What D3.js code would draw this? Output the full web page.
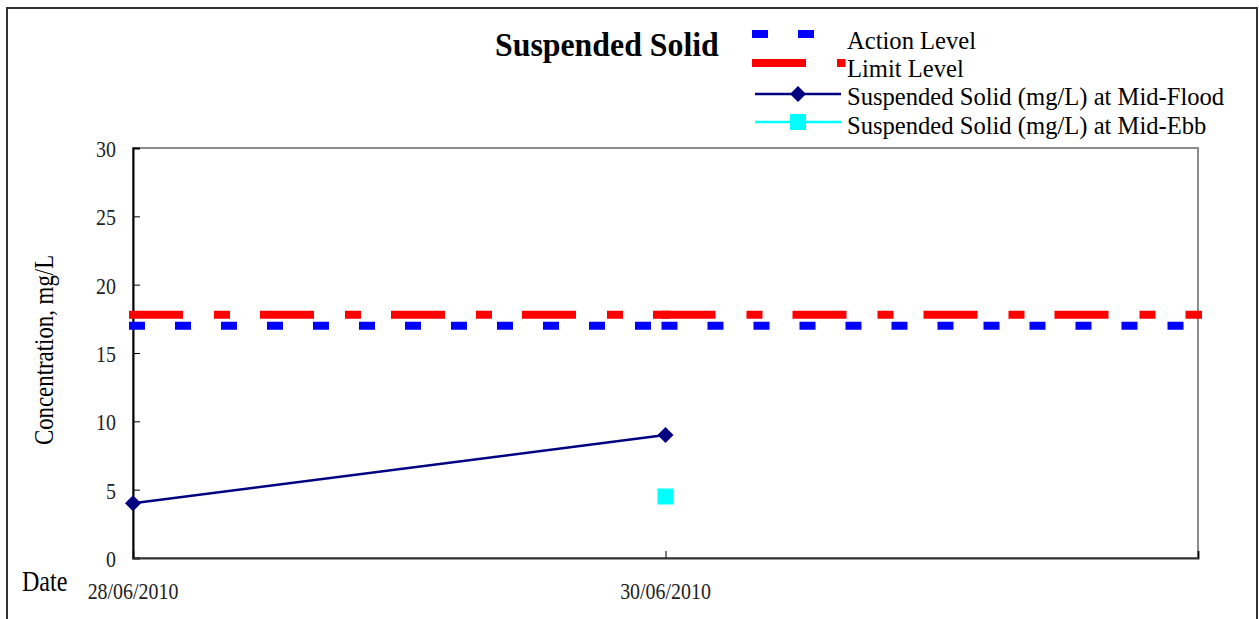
<!DOCTYPE html>
<html>
<head>
<meta charset="utf-8">
<script src="https://cdn.jsdelivr.net/npm/d3@7"></script>
<style>
  html, body { margin: 0; padding: 0; background: #fff; }
  svg { display: block; }
  text { font-family: "Liberation Serif", "Times New Roman", serif; }
</style>
</head>
<body>
<svg id="chart" width="1259" height="619"></svg>
<script>
// ---- data ----
const levelDates = ["2010-06-28", "2010-06-30", "2010-07-02"];
const actionLevel = [17, 17, 17];
const limitLevel = [17.8, 17.8, 17.8];
const floodDates = ["2010-06-28", "2010-06-30"];
const floodValues = [4, 9];
const ebbDates = ["2010-06-30"];
const ebbValues = [4.5];
const xTickDates = ["2010-06-28", "2010-06-30", "2010-07-02"];
const xTickLabels = ["28/06/2010", "30/06/2010", ""];
const yTicks = [0, 5, 10, 15, 20, 25, 30];
const legendLabels = [
  "Action Level",
  "Limit Level",
  "Suspended Solid (mg/L) at Mid-Flood",
  "Suspended Solid (mg/L) at Mid-Ebb"
];

const parse = d3.utcParse("%Y-%m-%d");
const svg = d3.select("#chart");
const SX = 0.83;   // narrow serif text
const LSX = 0.965; // legend text

// outer frame
svg.append("rect")
  .attr("x", 7).attr("y", 8).attr("width", 1250).attr("height", 640)
  .attr("fill", "none").attr("stroke", "#333").attr("stroke-width", 2);

const plot = { left: 133, right: 1198, top: 148, bottom: 558 };

const x = d3.scaleUtc()
  .domain([parse(levelDates[0]), parse(levelDates[levelDates.length - 1])])
  .range([plot.left, plot.right]);
const y = d3.scaleLinear().domain([0, 30]).range([plot.bottom, plot.top]);

// plot area border
svg.append("rect")
  .attr("x", plot.left).attr("y", plot.top)
  .attr("width", plot.right - plot.left).attr("height", plot.bottom - plot.top)
  .attr("fill", "#fff").attr("stroke", "#8c8c8c").attr("stroke-width", 2);

// y axis (inside ticks)
const yAxis = svg.append("g")
  .attr("transform", `translate(${plot.left},0)`)
  .call(d3.axisRight(y).tickValues(yTicks).tickSize(7).tickFormat(""));
yAxis.select(".domain").attr("stroke", "#000").attr("stroke-width", 2);
yAxis.selectAll(".tick line").attr("stroke", "#000");

svg.append("g").selectAll("text")
  .data(yTicks).join("text")
  .attr("transform", d => `translate(116,${y(d) + 9}) scale(${SX},1)`)
  .attr("text-anchor", "end")
  .attr("font-size", 24).attr("fill", "#222")
  .text(d => d);

// x axis (inside ticks)
const xAxis = svg.append("g")
  .attr("transform", `translate(0,${plot.bottom})`)
  .call(d3.axisTop(x).tickValues(xTickDates.map(parse)).tickSize(7).tickFormat(""));
xAxis.select(".domain").attr("stroke", "#333").attr("stroke-width", 2);
xAxis.selectAll(".tick line").attr("stroke", "#000");

svg.append("g").selectAll("text")
  .data(xTickDates.map((d, i) => ({ d: parse(d), label: xTickLabels[i] })))
  .join("text")
  .attr("transform", t => `translate(${x(t.d)},599) scale(${SX},1)`)
  .attr("text-anchor", "middle")
  .attr("font-size", 24).attr("fill", "#222")
  .text(t => t.label);

svg.append("text")
  .attr("transform", `translate(22,591) scale(${SX},1)`)
  .attr("font-size", 29).attr("fill", "#000")
  .text("Date");

svg.append("text")
  .attr("transform", `translate(53,350) rotate(-90) scale(${SX},1)`)
  .attr("text-anchor", "middle")
  .attr("font-size", 27.5).attr("fill", "#000")
  .text("Concentration, mg/L");

// title
svg.append("text")
  .attr("transform", "translate(495,56) scale(0.965,1)")
  .attr("font-size", 33).attr("font-weight", "bold").attr("fill", "#000")
  .text("Suspended Solid");

// ---- level lines, dashed per segment ----
const lineGen = d3.line().x(d => x(d.date)).y(d => y(d.value));
function levelSeries(values) {
  return levelDates.map((d, i) => ({ date: parse(d), value: values[i] }));
}
const actionDash = "8,38";
const limitDash = "46,39,8,38";

function drawLevel(values, color, dash) {
  const pts = levelSeries(values);
  svg.append("g").selectAll("path")
    .data(d3.pairs(pts)).join("path")
    .attr("d", p => lineGen(p))
    .attr("fill", "none").attr("stroke", color).attr("stroke-width", 8)
    .attr("stroke-linecap", "square").attr("stroke-dasharray", dash);
}
drawLevel(actionLevel, "#0000ff", actionDash);
drawLevel(limitLevel, "#ff0000", limitDash);

// Mid-Flood series
const flood = floodDates.map((d, i) => ({ date: parse(d), value: floodValues[i] }));
svg.append("path")
  .datum(flood)
  .attr("d", lineGen)
  .attr("fill", "none").attr("stroke", "#000080").attr("stroke-width", 2.5);

const diamond = (cx, cy, r) => `M${cx},${cy - r}L${cx + r},${cy}L${cx},${cy + r}L${cx - r},${cy}Z`;
svg.append("g").selectAll("path")
  .data(flood).join("path")
  .attr("d", d => diamond(x(d.date), y(d.value), 8))
  .attr("fill", "#000080");

// Mid-Ebb series
const ebb = ebbDates.map((d, i) => ({ date: parse(d), value: ebbValues[i] }));
svg.append("path")
  .datum(ebb)
  .attr("d", lineGen)
  .attr("fill", "none").attr("stroke", "#00ffff").attr("stroke-width", 2.5);
svg.append("g").selectAll("rect")
  .data(ebb).join("rect")
  .attr("x", d => x(d.date) - 8).attr("y", d => y(d.value) - 8)
  .attr("width", 16).attr("height", 16)
  .attr("fill", "#00ffff");

// ---- legend ----
const lg = svg.append("g");
const lx0 = 756, lx1 = 841, lmid = 798;
const rowY = [34, 63, 94, 122];
const rowBase = [48.5, 77, 105, 134];

lg.append("path").attr("d", `M${lx0},${rowY[0]}H${lx1}`)
  .attr("stroke", "#0000ff").attr("stroke-width", 8)
  .attr("stroke-linecap", "square").attr("stroke-dasharray", actionDash);
lg.append("path").attr("d", `M${lx0},${rowY[1]}H${lx1 + 0.5}`)
  .attr("stroke", "#ff0000").attr("stroke-width", 8)
  .attr("stroke-linecap", "square").attr("stroke-dasharray", limitDash);
lg.append("path").attr("d", `M${lx0 - 1},${rowY[2]}H${lx1}`)
  .attr("stroke", "#000080").attr("stroke-width", 2.5);
lg.append("path").attr("d", diamond(lmid, rowY[2], 8)).attr("fill", "#000080");
lg.append("path").attr("d", `M${lx0 - 1},${rowY[3]}H${lx1}`)
  .attr("stroke", "#00ffff").attr("stroke-width", 2.5);
lg.append("rect").attr("x", lmid - 8).attr("y", rowY[3] - 8)
  .attr("width", 16).attr("height", 16).attr("fill", "#00ffff");

lg.selectAll("text")
  .data(legendLabels).join("text")
  .attr("transform", (d, i) => `translate(847,${rowBase[i]}) scale(${LSX},1)`)
  .attr("font-size", 25.5).attr("fill", "#000")
  .text(d => d);
</script>
</body>
</html>
